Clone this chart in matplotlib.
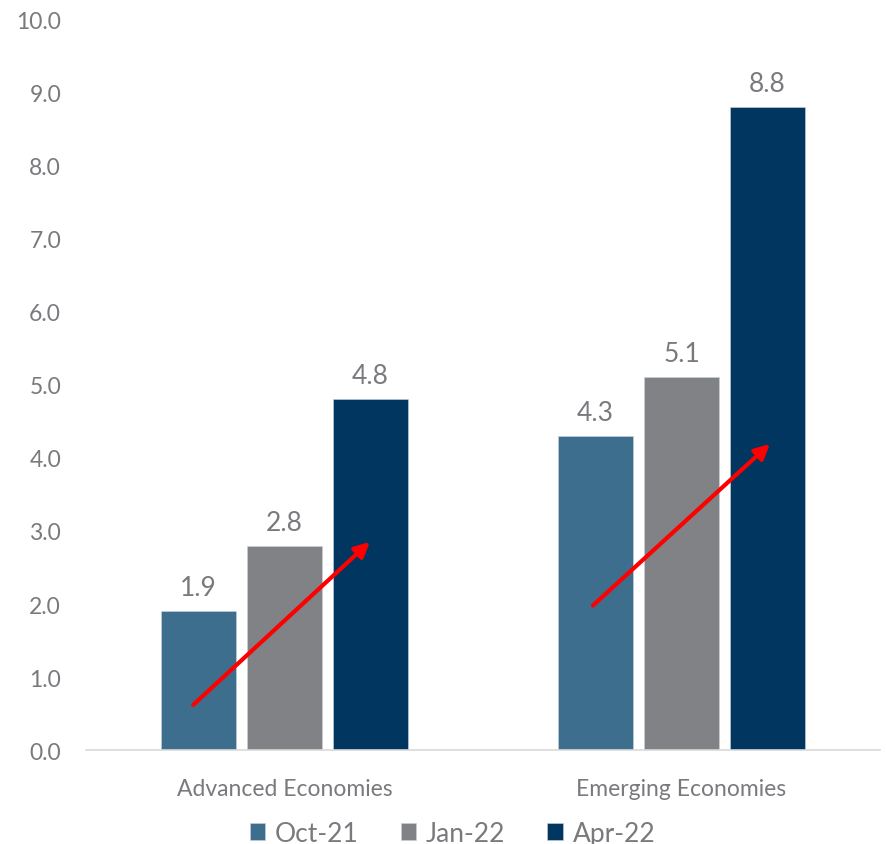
import numpy as np
import matplotlib.pyplot as plt

plt.rcParams['font.family'] = ['Lato', 'DejaVu Sans']

# Data
categories = ['Advanced Economies', 'Emerging Economies']
series = ['Oct-21', 'Jan-22', 'Apr-22']
values = {
    'Oct-21': [1.9, 4.3],
    'Jan-22': [2.8, 5.1],
    'Apr-22': [4.8, 8.8],
}
colors = ['#3E6E8E', '#808285', '#003660']

# red trend arrows (start, end) per group, in data units
arrow_start = [(-0.23, 0.62), (0.777, 1.98)]
arrow_end = [(0.215, 2.85), (1.223, 4.19)]

text_col = '#7A7A7E'

fig = plt.figure(figsize=(8.87, 8.45), dpi=100)
ax = fig.add_axes([0.097, 0.111, 0.895, 0.865])

x = np.arange(len(categories))
step = 0.2166
width = 0.189
for i, s in enumerate(series):
    pos = x + (i - 1) * step
    bars = ax.bar(pos, values[s], width, color=colors[i], label=s,
                  edgecolor='#C9D3DC', linewidth=0.4)
    for p, v in zip(pos, values[s]):
        ax.text(p, v + 0.15, f'{v:.1f}', ha='center', va='bottom',
                fontsize=19, color=text_col)

for (x0, y0), (x1, y1) in zip(arrow_start, arrow_end):
    ax.annotate('', xy=(x1, y1), xytext=(x0, y0),
                arrowprops=dict(arrowstyle='-|>', color='#FF0000', lw=3,
                                mutation_scale=22, shrinkA=0, shrinkB=0))

ax.set_xlim(-0.5, 1.5)
ax.set_ylim(0, 10)
ax.set_yticks(np.arange(0, 10.5, 1))
ax.set_yticklabels([f'{t:.1f}' for t in np.arange(0, 10.5, 1)])
ax.set_xticks(x)
ax.set_xticklabels(categories)
ax.tick_params(axis='y', length=0, labelsize=16.5, colors=text_col, pad=18)
ax.tick_params(axis='x', length=0, labelsize=16.5, colors=text_col, pad=20)
for side in ['top', 'right', 'left']:
    ax.spines[side].set_visible(False)
ax.spines['bottom'].set_color('#D9D9D9')
ax.spines['bottom'].set_linewidth(1.2)

leg = fig.legend(loc='lower center', bbox_to_anchor=(0.51, -0.03), ncol=3,
                 frameon=False, fontsize=19, handlelength=0.6, handleheight=0.6,
                 handletextpad=0.35, columnspacing=1.6)
for t in leg.get_texts():
    t.set_color(text_col)

fig.savefig('out.png', dpi=100)
